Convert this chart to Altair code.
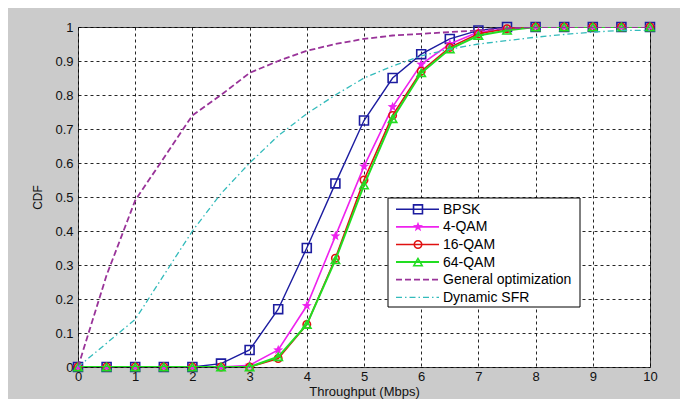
import math
import altair as alt
import pandas as pd

# ---------------- data ----------------
X = [0, 0.5, 1, 1.5, 2, 2.5, 3, 3.5, 4, 4.5, 5, 5.5, 6, 6.5, 7, 7.5, 8, 8.5, 9, 9.5, 10]

BPSK = [0, 0, 0, 0, 0, 0.01, 0.05, 0.17, 0.35, 0.54, 0.725, 0.85, 0.92, 0.965, 0.99, 1, 1, 1, 1, 1, 1]
QAM4 = [0, 0, 0, 0, 0, 0, 0.005, 0.05, 0.18, 0.385, 0.59, 0.765, 0.89, 0.95, 0.985, 0.995, 1, 1, 1, 1, 1]
QAM16 = [0, 0, 0, 0, 0, 0, 0, 0.025, 0.125, 0.32, 0.55, 0.74, 0.87, 0.94, 0.98, 0.995, 1, 1, 1, 1, 1]
QAM64 = [0, 0, 0, 0, 0, 0, 0, 0.03, 0.125, 0.315, 0.535, 0.73, 0.865, 0.935, 0.975, 0.99, 1, 1, 1, 1, 1]
GENOPT = [0, 0.27, 0.49, 0.615, 0.74, 0.8, 0.865, 0.9, 0.93, 0.95, 0.965, 0.975, 0.98, 0.985, 0.99, 0.995, 1, 1, 1, 1, 1]
DYNSFR = [0, 0.07, 0.14, 0.27, 0.4, 0.51, 0.6, 0.68, 0.745, 0.8, 0.85, 0.885, 0.915, 0.935, 0.95, 0.96, 0.97, 0.978, 0.985, 0.99, 0.99]

NAMES = ["BPSK", "4-QAM", "16-QAM", "64-QAM", "General optimization", "Dynamic SFR"]
VALUES = [BPSK, QAM4, QAM16, QAM64, GENOPT, DYNSFR]
X_TICKS = [0, 1, 2, 3, 4, 5, 6, 7, 8, 9, 10]
Y_TICKS = [0, 0.1, 0.2, 0.3, 0.4, 0.5, 0.6, 0.7, 0.8, 0.9, 1]

# ---------------- styles ----------------
def star_path():
    pts = []
    for k in range(10):
        r = 1.0 if k % 2 == 0 else 0.42
        a = math.radians(-90 + 36 * k)
        pts.append(f"{r*math.cos(a):.3f},{r*math.sin(a):.3f}")
    return "M" + " L".join(pts) + " Z"

STYLE = {
    "BPSK": dict(color="#1c1ca0", width=1.4, dash=None, shape="square", filled=False, size=80),
    "4-QAM": dict(color="#ee22ee", width=1.6, dash=None, shape=star_path(), filled=True, size=110),
    "16-QAM": dict(color="#e01010", width=1.6, dash=None, shape="circle", filled=False, size=55),
    "64-QAM": dict(color="#22dd22", width=2.0, dash=None, shape="triangle-up", filled=False, size=70),
    "General optimization": dict(color="#993399", width=1.8, dash=[6, 3], shape=None),
    "Dynamic SFR": dict(color="#33bbbb", width=1.3, dash=[6, 3, 1.5, 3], shape=None),
}

FONT = "Liberation Sans"
W, H = 572, 340

xscale = alt.Scale(domain=[0, 10], nice=False, zero=False)
yscale = alt.Scale(domain=[0, 1], nice=False, zero=False)
xaxis = alt.Axis(values=X_TICKS, tickCount=11, format="d", grid=True, ticks=False,
                 labelFlush=False, labelPadding=3, titlePadding=2, titleFontSize=13)
yaxis = alt.Axis(values=Y_TICKS, tickCount=11, format=".1~f", grid=True, ticks=False,
                 labelFlush=False, labelPadding=5, titlePadding=10, titleFontSize=12)


def xenc():
    return alt.X("x:Q", scale=xscale, title="Throughput (Mbps)", axis=xaxis)


def yenc():
    return alt.Y("y:Q", scale=yscale, title="CDF", axis=yaxis)


layers = []
for name, vals in zip(NAMES, VALUES):
    st = STYLE[name]
    df = pd.DataFrame({"x": X, "y": vals, "series": name})
    line_kw = dict(color=st["color"], strokeWidth=st["width"], clip=True)
    if st["dash"]:
        line_kw["strokeDash"] = st["dash"]
    layers.append(alt.Chart(df).mark_line(**line_kw).encode(x=xenc(), y=yenc()))
    if st.get("shape"):
        pt_kw = dict(shape=st["shape"], size=st["size"], filled=st["filled"],
                     color=st["color"], strokeWidth=1.6, opacity=1)
        layers.append(alt.Chart(df).mark_point(**pt_kw).encode(x=xenc(), y=yenc()))

# ---------------- manual legend (MATLAB style) ----------------
one = alt.Data(values=[{"a": 1}])
LX0, LX1, LY0, LY1 = 310, 502, 171, 280
layers.append(alt.Chart(one).mark_rect(fill="white", stroke="black", strokeWidth=1).encode(
    x=alt.value(LX0), x2=alt.value(LX1), y=alt.value(LY0), y2=alt.value(LY1)))
for i, name in enumerate(NAMES):
    st = STYLE[name]
    yy = 182.3 + i * 17.6
    lk = dict(color=st["color"], strokeWidth=st["width"])
    if st["dash"]:
        lk["strokeDash"] = st["dash"]
    layers.append(alt.Chart(one).mark_rule(**lk).encode(
        x=alt.value(318), x2=alt.value(361), y=alt.value(yy)))
    if st.get("shape"):
        layers.append(alt.Chart(one).mark_point(shape=st["shape"], size=st["size"], filled=st["filled"],
                                                color=st["color"], strokeWidth=1.6, opacity=1).encode(
            x=alt.value(340), y=alt.value(yy)))
    layers.append(alt.Chart(one).mark_text(align="left", baseline="middle", font=FONT, fontSize=14,
                                           color="black").encode(
        x=alt.value(365), y=alt.value(yy + 0.5), text=alt.value(name)))

chart = alt.layer(*layers).properties(
    width=W, height=H,
    background="#cbcbcb",
    padding={"left": 70, "top": 19, "right": 30, "bottom": 32},
    autosize=alt.AutoSizeParams(type="none"),
).configure_view(
    fill="white", stroke="#404040", strokeWidth=1
).configure_axis(
    domain=False,
    gridColor="black", gridDash=[3, 3], gridOpacity=0.85, gridWidth=1,
    labelFont=FONT, labelFontSize=13, labelColor="#111111", labelOverlap=False,
    titleFont=FONT, titleFontWeight="normal", titleColor="#111111",
)

chart.save("out.html", embed_options={"renderer": "svg", "actions": False})
